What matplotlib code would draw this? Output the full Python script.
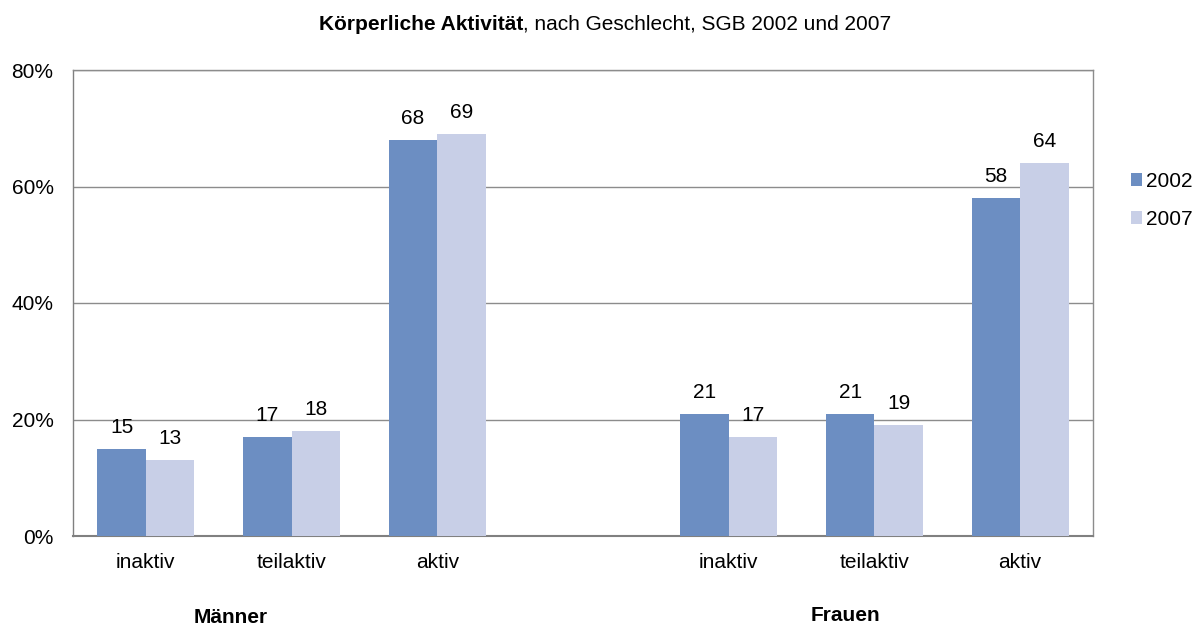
import matplotlib.pyplot as plt
import matplotlib.transforms as mtransforms
import numpy as np

# data
categories = ['inaktiv', 'teilaktiv', 'aktiv', '', 'inaktiv', 'teilaktiv', 'aktiv']
values_2002 = [15, 17, 68, None, 21, 21, 58]
values_2007 = [13, 18, 69, None, 17, 19, 64]
groups = ['Männer', 'Frauen']
group_pos = [0.58, 4.8]  # x position of group labels (data units)

plt.rcParams['font.family'] = ['Liberation Sans', 'DejaVu Sans']

col_2002 = '#6C8EC2'
col_2007 = '#C8CFE7'
grid_col = '#8C8C8C'
fs = 15

fig = plt.figure(figsize=(11.94, 6.25), dpi=100)
ax = fig.add_axes([0.0611, 0.1424, 0.9154 - 0.0611, 0.888 - 0.1424])

x = np.arange(len(categories))
w = 1.0 / 3.0

def bars(vals, offset, color, label):
    xs = [xi + offset for xi, v in zip(x, vals) if v is not None]
    vs = [v for v in vals if v is not None]
    b = ax.bar(xs, vs, width=w, color=color, label=label, zorder=3)
    for xi, v in zip(xs, vs):
        ax.annotate(str(v), (xi, v), xytext=(0, 11.5), textcoords='offset points',
                    ha='center', va='baseline', fontsize=fs)
    return b

bars(values_2002, -w / 2, col_2002, '2002')
bars(values_2007, w / 2, col_2007, '2007')

ax.set_xlim(-0.5, len(categories) - 0.5)
ax.set_ylim(0, 80)
ax.set_yticks([0, 20, 40, 60, 80])
ax.set_yticklabels(['0%', '20%', '40%', '60%', '80%'], fontsize=fs)
ax.set_xticks(x)
ax.set_xticklabels(categories, fontsize=fs)
ax.tick_params(axis='both', length=0)
ax.tick_params(axis='y', pad=14)
ax.tick_params(axis='x', pad=12)
ax.grid(axis='y', color=grid_col, linewidth=1, zorder=0)
for s in ax.spines.values():
    s.set_color(grid_col)
    s.set_linewidth(1)
ax.spines['left'].set_color('#808080')
ax.spines['bottom'].set_color('#808080')
ax.spines['bottom'].set_linewidth(1.5)

# group labels below the categories
trans = mtransforms.blended_transform_factory(ax.transData, fig.transFigure)
ax.text(group_pos[0], 1 - 623 / 625, groups[0], transform=trans, ha='center',
        va='baseline', fontsize=fs, fontweight='bold')
ax.text(group_pos[1], 1 - 621 / 625, groups[1], transform=trans, ha='center', va='baseline',
        fontsize=fs, fontweight='bold')

# title: bold part + regular part
t1 = fig.text(0.5, 1 - 30 / 625, 'Körperliche Aktivität', ha='left', va='baseline',
              fontsize=fs, fontweight='bold')
t2 = fig.text(0, 1 - 30 / 625, ', nach Geschlecht, SGB 2002 und 2007', ha='left', va='baseline',
              fontsize=fs)
fig.canvas.draw()
bb = t1.get_window_extent()
bb2 = t2.get_window_extent()
total = bb.width + bb2.width
x0 = 605 - total / 2
t1.set_x(x0 / 1194)
t2.set_x((x0 + bb.width) / 1194)

fig.legend(loc='upper left', bbox_to_anchor=(1131 / 1194, 1 - 172 / 625), frameon=False,
           fontsize=fs, handlelength=0.53, handleheight=0.53, handletextpad=0.2,
           labelspacing=0.9, borderpad=0, borderaxespad=0)

fig.savefig('out.png', dpi=100)
